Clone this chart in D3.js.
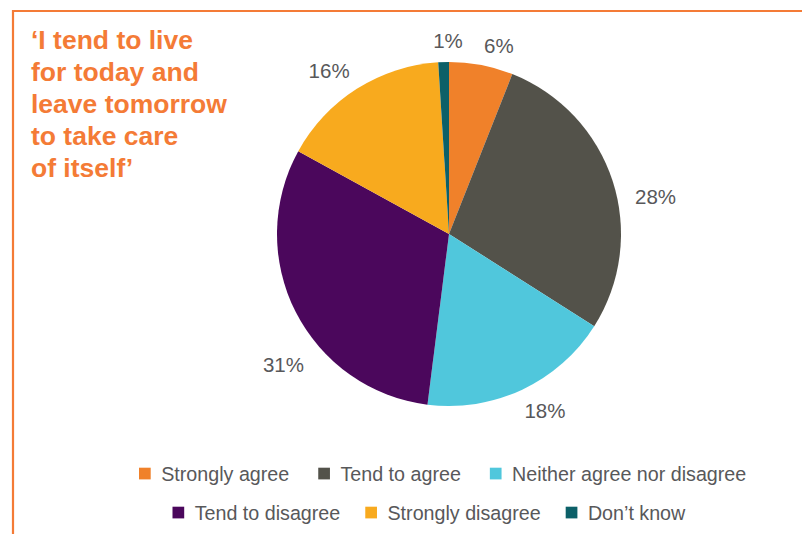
<!DOCTYPE html>
<html>
<head>
<meta charset="utf-8">
<script src="https://cdn.jsdelivr.net/npm/d3@7"></script>
<style>
  html, body { margin: 0; padding: 0; background: #fff; }
  svg { display: block; }
  text { font-family: "Liberation Sans", Arial, Helvetica, sans-serif; }
</style>
</head>
<body>
<svg id="chart" width="802" height="534"></svg>
<script>
// Survey responses
const categories = ["Strongly agree", "Tend to agree", "Neither agree nor disagree",
                    "Tend to disagree", "Strongly disagree", "Don\u2019t know"];
const values = [6, 28, 18, 31, 16, 1];
const colors = ["#F0812A", "#53524A", "#50C7DC", "#4B075C", "#F8AA1E", "#0C6068"];
const titleLines = ["\u2018I tend to live", "for today and", "leave tomorrow",
                    "to take care", "of itself\u2019"];

const svg = d3.select("#chart");
const W = 802, H = 534;

// frame: top and left rule
const frameColor = "#F47B36";
svg.append("line").attr("x1", 12).attr("x2", W).attr("y1", 11).attr("y2", 11)
  .attr("stroke", frameColor).attr("stroke-width", 2.2);
svg.append("line").attr("x1", 13).attr("x2", 13).attr("y1", 10).attr("y2", H)
  .attr("stroke", frameColor).attr("stroke-width", 2.2);

// title
const title = svg.append("text").attr("x", 31).attr("y", 48.5)
  .attr("fill", "#F47B36").attr("font-size", 26.5).attr("font-weight", "bold");
titleLines.forEach((t, i) => {
  title.append("tspan").attr("x", 31).attr("dy", i === 0 ? 0 : 32.1).text(t);
});

// pie
const cx = 449, cy = 234, R = 172;
const pie = d3.pie().sort(null).value(d => d.v);
const data = categories.map((c, i) => ({ c, v: values[i], col: colors[i] }));
const arcs = pie(data);
const arc = d3.arc().innerRadius(0).outerRadius(R);

const g = svg.append("g").attr("transform", `translate(${cx},${cy})`);
g.selectAll("path.slice").data(arcs).join("path")
  .attr("class", "slice")
  .attr("d", arc)
  .attr("fill", d => d.data.col);

// percentage labels placed round the rim, nudged off crowded spots
const nudgeDeg = [4, 7.6, -3.3, -11.3, -3.8, 1.5];
const labelR = [195, 210, 201, 211, 203, 194];
g.selectAll("text.pct").data(arcs).join("text")
  .attr("class", "pct")
  .attr("transform", (d, i) => {
    const a = (d.startAngle + d.endAngle) / 2 + nudgeDeg[i] * Math.PI / 180;
    const r = labelR[i];
    return `translate(${r * Math.sin(a)},${-r * Math.cos(a)})`;
  })
  .attr("text-anchor", "middle")
  .attr("dominant-baseline", "central")
  .attr("font-size", 20.5)
  .attr("fill", "#58585A")
  .text(d => d.data.v + "%");

// legend, two rows
const rows = [[0, 1, 2], [3, 4, 5]];
const rowStart = [139, 172.5];
const rowBase = [481, 520];
const rowGap = [29, 25];
const sw = 11.7, gapText = 10.5;
rows.forEach((row, ri) => {
  let x = rowStart[ri];
  row.forEach(i => {
    svg.append("rect").attr("x", x).attr("y", rowBase[ri] - 13.3)
      .attr("width", sw).attr("height", sw).attr("fill", colors[i]);
    const t = svg.append("text").attr("x", x + sw + gapText).attr("y", rowBase[ri])
      .attr("font-size", 19.7).attr("fill", "#58585A").text(categories[i]);
    x += sw + gapText + t.node().getComputedTextLength() + rowGap[ri];
  });
});
</script>
</body>
</html>
